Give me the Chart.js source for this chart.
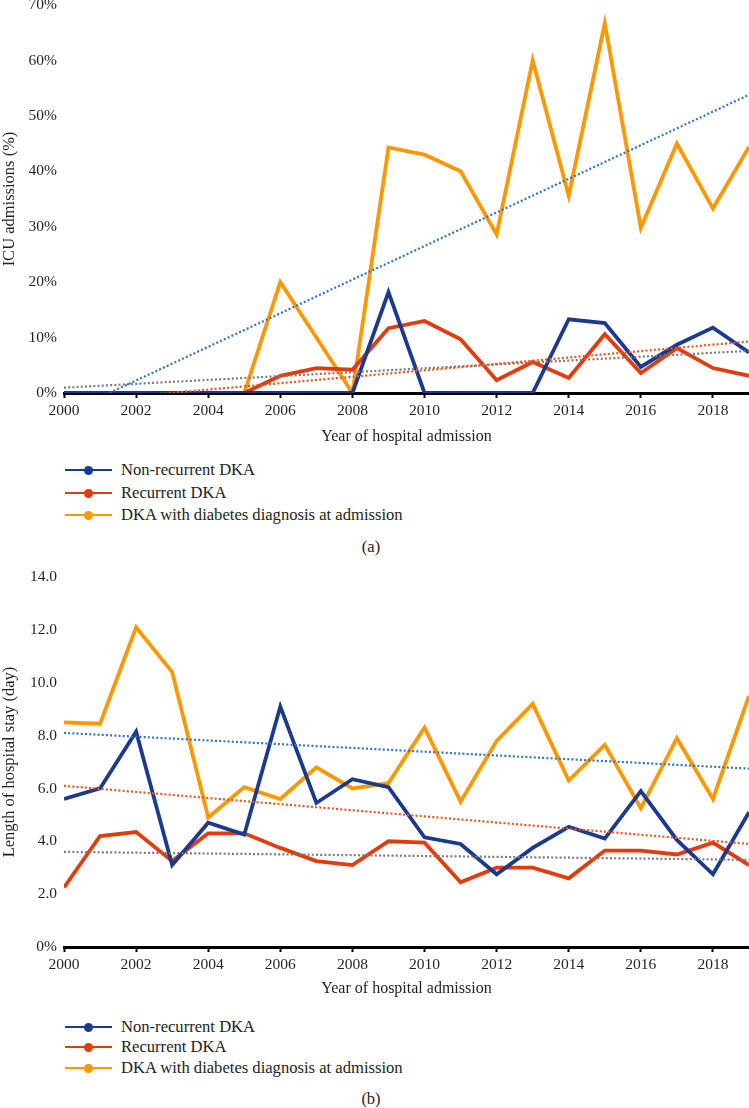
<!DOCTYPE html>
<html><head><meta charset="utf-8">
<script src="https://cdn.jsdelivr.net/npm/chart.js@4"></script>
<style>
body{margin:0;width:749px;height:1108px;background:#fff;position:relative;overflow:hidden;font-family:"Liberation Serif",serif;color:#231f20}
canvas{position:absolute;left:0}
.item{position:absolute;left:0;height:20px;width:600px}
.item .ln{position:absolute;left:65px;width:47px;top:9px;height:2px}
.item .dot{position:absolute;left:84px;top:6px;width:9px;height:9px;border-radius:50%}
.item .tx{position:absolute;left:121px;top:0;line-height:20px;white-space:nowrap;font-size:16.6px}
.cap{position:absolute;width:742px;left:0;text-align:center;font-size:16.5px;line-height:20px}
</style></head>
<body>
<canvas id="cA" width="749" height="450" style="top:0"></canvas>
<canvas id="cB" width="749" height="440" style="top:560px"></canvas>
<div id="legA"></div>
<div class="cap" style="top:537px">(a)</div>
<div id="legB"></div>
<div class="cap" style="top:1089px">(b)</div>
<script>
// ---- data ----
const years = [2000,2001,2002,2003,2004,2005,2006,2007,2008,2009,2010,2011,2012,2013,2014,2015,2016,2017,2018,2019];
const xTickYears = [2000,2002,2004,2006,2008,2010,2012,2014,2016,2018];
const seriesNames = ['Non-recurrent DKA','Recurrent DKA','DKA with diabetes diagnosis at admission'];

// (a) ICU admissions (%)
const icuNonRecurrent = [0,0,0,0,0,0,0,0,0,18.2,0,0,0,0,13.3,12.6,4.7,8.7,11.8,7.3];
const icuRecurrent    = [0,0,0,0,0,0,3.1,4.5,4.2,11.7,13.0,9.7,2.3,5.6,2.7,10.6,3.6,8.1,4.5,3.1];
const icuNewDiagnosis = [0,0,0,0,0,0,20.0,10.0,0,44.3,43.0,40.0,28.6,60.0,35.6,66.7,29.8,45.0,33.3,44.4];
const trendYears = [2000,2019];
const icuTrendBlue = [-3.8,53.8];
const icuTrendRed  = [-1.7,9.3];
const icuTrendGray = [0.96,7.6];
const icuYTicks  = [0,10,20,30,40,50,60,70];
const icuYLabels = ['0%','10%','20%','30%','40%','50%','60%','70%'];

// (b) Length of hospital stay (day)
const losNonRecurrent = [5.6,6.0,8.15,3.1,4.7,4.25,9.1,5.45,6.35,6.05,4.15,3.9,2.75,3.75,4.55,4.1,5.9,4.05,2.75,5.1];
const losRecurrent    = [2.25,4.2,4.35,3.25,4.3,4.3,3.75,3.25,3.1,4.0,3.95,2.45,3.0,3.0,2.6,3.65,3.65,3.5,3.95,3.1];
const losNewDiagnosis = [8.5,8.45,12.1,10.4,4.9,6.05,5.6,6.8,6.0,6.2,8.3,5.5,7.8,9.2,6.3,7.65,5.25,7.9,5.6,9.5];
const losTrendBlue = [8.1,6.75];
const losTrendRed  = [6.1,3.9];
const losTrendGray = [3.6,3.3];
const losYTicks  = [0,2,4,6,8,10,12,14];
const losYLabels = ['0%','2.0','4.0','6.0','8.0','10.0','12.0','14.0'];

// ---- styles ----
const C_NAVY = '#1b3a8e', C_RED = '#e03c0e', C_ORANGE = '#ff9800';
const T_BLUE = '#2f74c6', T_RED = '#f2531b', T_GRAY = '#7a7a7a';
const seriesColors = [C_NAVY, C_RED, C_ORANGE];
const TICKFONT = {family:'"Liberation Serif", serif', size:15.5};
const XTFONT = {family:'"Liberation Serif", serif', size:16};
const YTFONT = {family:'"Liberation Serif", serif', size:16.5};
const TXT = '#231f20';

const pts = (xs, ys) => xs.map((x,i)=>({x, y: ys[i]}));
const solid = (label, data, color) => ({label, data: pts(years, data), borderColor: color, backgroundColor: color, borderWidth: 3.8, pointRadius: 0, tension: 0});
const dotted = (data, color) => ({label: 'trend', data: pts(trendYears, data), borderColor: color, borderWidth: 2.2, borderDash: [2,2.2], pointRadius: 0, tension: 0});

function makeChart(id, sets, yMax, yTicks, yLabels, yTitle, topPad, xHeight, xTitlePad) {
  return new Chart(document.getElementById(id), {
    type: 'line',
    data: { datasets: sets },
    options: {
      responsive: false, animation: false,
      layout: { padding: { top: topPad, left: 0, right: 0, bottom: 0 } },
      plugins: { legend: { display: false }, tooltip: { enabled: false } },
      scales: {
        x: {
          type: 'linear', min: 2000, max: 2019,
          afterBuildTicks: s => { s.ticks = xTickYears.map(v => ({value: v})); },
          ticks: { callback: v => String(v), font: TICKFONT, color: TXT, padding: 4, maxRotation: 0, autoSkip: false },
          grid: { display: true, drawOnChartArea: false, drawTicks: true, tickLength: 5, tickWidth: 2, color: '#000' },
          border: { display: true, color: '#000', width: 3 },
          title: { display: true, text: 'Year of hospital admission', font: XTFONT, color: TXT, padding: {top: 0, bottom: xTitlePad} },
          afterFit: s => { s.height = xHeight; s.paddingLeft = 0; s.paddingRight = 0; }
        },
        y: {
          min: 0, max: yMax,
          afterBuildTicks: s => { s.ticks = yTicks.map(v => ({value: v})); },
          ticks: { callback: (v, i) => yLabels[i], font: TICKFONT, color: TXT, padding: 7 },
          grid: { display: false, drawTicks: false },
          border: { display: false },
          title: { display: true, text: yTitle, font: YTFONT, color: TXT, padding: 0 },
          afterFit: s => { s.width = 64; s.paddingTop = 0; s.paddingBottom = 0; }
        }
      }
    }
  });
}

makeChart('cA', [
  dotted(icuTrendBlue, T_BLUE), dotted(icuTrendRed, T_RED), dotted(icuTrendGray, T_GRAY),
  solid(seriesNames[0], icuNonRecurrent, C_NAVY),
  solid(seriesNames[1], icuRecurrent, C_RED),
  solid(seriesNames[2], icuNewDiagnosis, C_ORANGE)
], 70, icuYTicks, icuYLabels, 'ICU admissions (%)', 5, 57, 4);

makeChart('cB', [
  dotted(losTrendBlue, T_BLUE), dotted(losTrendRed, T_RED), dotted(losTrendGray, T_GRAY),
  solid(seriesNames[0], losNonRecurrent, C_NAVY),
  solid(seriesNames[1], losRecurrent, C_RED),
  solid(seriesNames[2], losNewDiagnosis, C_ORANGE)
], 14, losYTicks, losYLabels, 'Length of hospital stay (day)', 17, 53, 2);

function legend(id, centers) {
  const el = document.getElementById(id);
  seriesNames.forEach((n, i) => {
    const d = document.createElement('div');
    d.className = 'item';
    d.style.top = (centers[i] - 10) + 'px';
    d.innerHTML = '<div class="ln" style="background:' + seriesColors[i] + '"></div><div class="dot" style="background:' + seriesColors[i] + '"></div><div class="tx"></div>';
    d.querySelector('.tx').textContent = n;
    el.appendChild(d);
  });
}
legend('legA', [470, 493, 515]);
legend('legB', [1027, 1047, 1068]);
</script>
</body></html>
